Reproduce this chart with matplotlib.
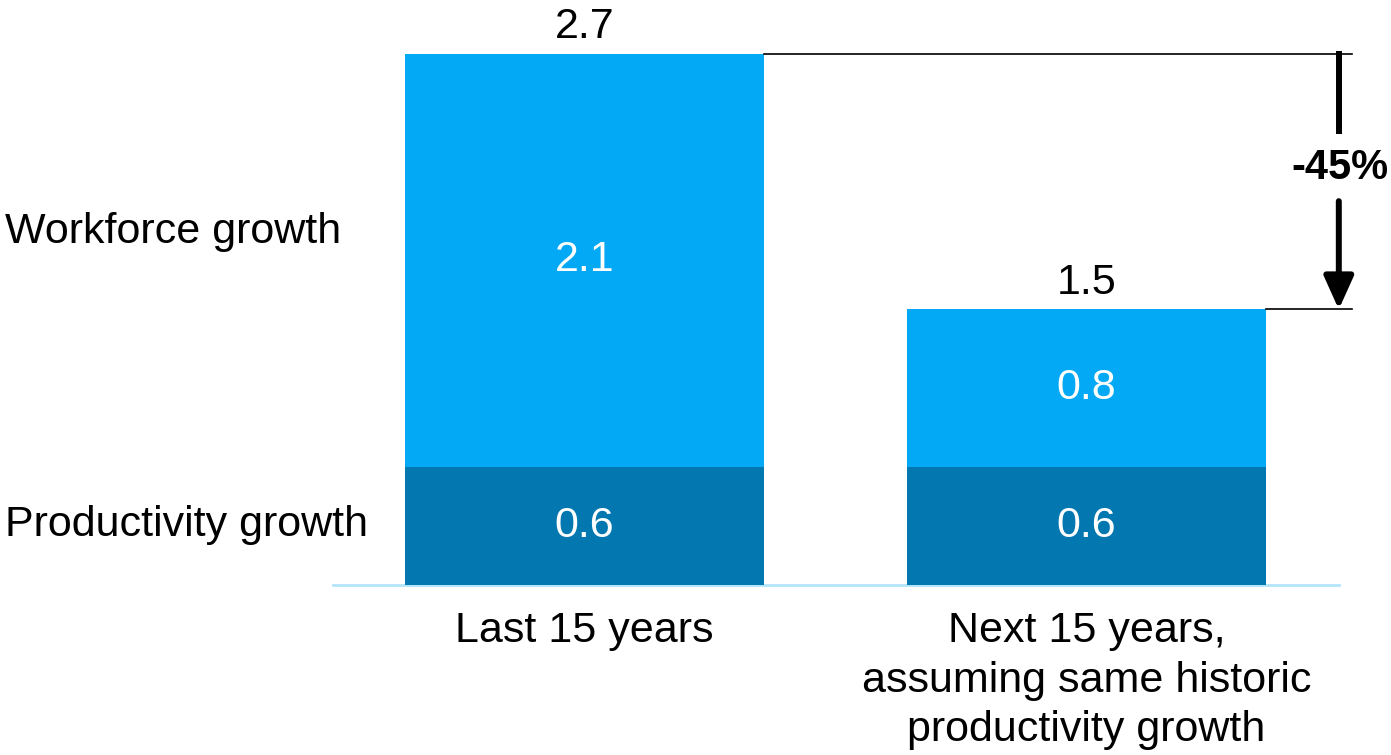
import matplotlib
matplotlib.use('Agg')
import matplotlib.pyplot as plt

plt.rcParams['font.family'] = ['Liberation Sans', 'DejaVu Sans']

# stacked growth components, % per year
periods = ['Last 15 years', 'Next 15 years,\nassuming same historic\nproductivity growth']
productivity = [0.6, 0.6]
workforce = [2.1, 0.8]
totals = [2.7, 1.5]
change_label = '-45%'
series_names = ['Workforce growth', 'Productivity growth']

LIGHT, DARK, BASE = '#03A9F4', '#0277B0', '#B3E5FA'
FS = 31

fig = plt.figure(figsize=(13.91, 7.55), dpi=100)
ax = fig.add_axes([333 / 1391, 170 / 755, 1058 / 1391, 561 / 755])
ax.set_xlim(-0.501, 1.607)
ax.set_ylim(0, 2.85)
ax.axis('off')

x = [0, 1]
w = 0.715
ax.bar(x, productivity, width=w, color=DARK, zorder=2)
ax.bar(x, workforce, width=w, bottom=productivity, color=LIGHT, zorder=2)
ax.plot([-0.501, 1.503], [0, 0], color=BASE, lw=2, zorder=1, clip_on=False)

tops = [p + q for p, q in zip(productivity, workforce)]
for i in x:
    ax.text(i, productivity[i] / 2, f'{productivity[i]:.1f}', ha='center', va='center',
            color='white', fontsize=FS)
    ax.text(i, productivity[i] + workforce[i] / 2, f'{workforce[i]:.1f}', ha='center',
            va='center', color='white', fontsize=FS)
    ax.text(i, tops[i] + 0.08, f'{totals[i]:.1f}', ha='center', va='baseline', fontsize=FS,
            clip_on=False)
    ax.text(i, -0.13, periods[i], ha='center', va='top', fontsize=FS, linespacing=1.32)

# bracket showing the drop from one period to the next
ax_x = 1.503
ax.plot([w / 2, ax_x + 0.026], [tops[0], tops[0]], color='black', lw=1.2)
ax.plot([1 + w / 2, ax_x + 0.026], [tops[1], tops[1]], color='black', lw=1.2)
mid = (tops[0] + tops[1]) / 2 + 0.07
gap = 0.17
ax.plot([ax_x, ax_x], [tops[0] + 0.015, mid + gap], color='black', lw=4.3,
        solid_capstyle='butt')
ax.annotate('', xy=(ax_x, tops[1]), xytext=(ax_x, mid - gap),
            arrowprops=dict(arrowstyle='-|>,head_length=1.0,head_width=0.45', lw=4.3,
                            color='black', mutation_scale=20, shrinkA=0, shrinkB=0))
ax.text(ax_x + 0.003, mid, change_label, ha='center', va='center', fontsize=FS - 1,
        fontweight='bold')

# series names on the left
fig.text(5 / 1391, 1 - 232 / 755, series_names[0], ha='left', va='center', fontsize=FS)
fig.text(5 / 1391, 1 - 525 / 755, series_names[1], ha='left', va='center', fontsize=FS)

fig.savefig('out.png', dpi=100, facecolor='white')
